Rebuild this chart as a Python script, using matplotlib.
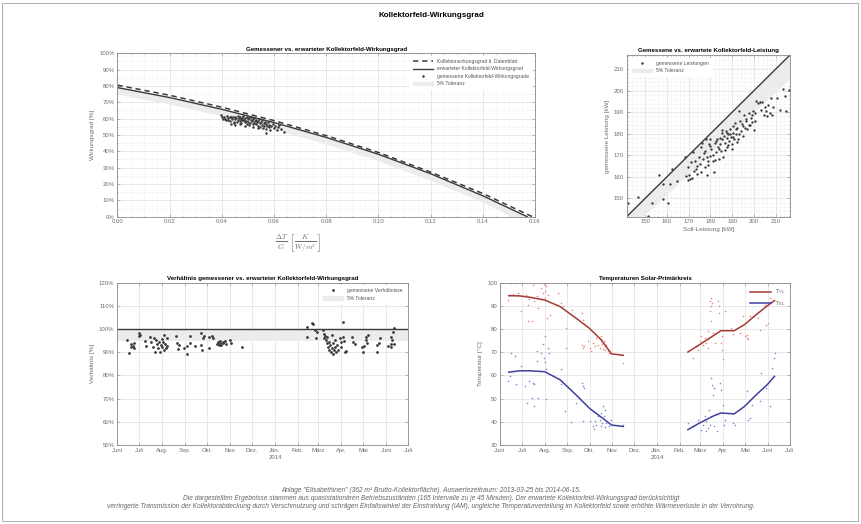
import matplotlib
matplotlib.use("Agg")
import numpy as np
import pandas as pd
import matplotlib.pyplot as plt
from matplotlib.patches import Rectangle, Patch
from matplotlib.lines import Line2D
from matplotlib.ticker import MultipleLocator, FuncFormatter

plt.rcParams['font.family'] = ['Liberation Sans', 'DejaVu Sans']
plt.rcParams['mathtext.fontset'] = 'cm'

# --- Wirkungsgrad-Kennlinien (x = dT/G, y in %) ---
dt_g_sheet = [0.00, 0.02, 0.04, 0.06, 0.08, 0.10, 0.12, 0.14, 0.159]
eta_sheet = [80.5, 74.3, 67.0, 58.8, 49.6, 39.3, 27.3, 14.2, 0.0]
dt_g = [0.00, 0.02, 0.04, 0.06, 0.08, 0.10, 0.12, 0.14, 0.151, 0.157]
eta_expected = [79.0, 72.9, 65.7, 57.6, 48.5, 38.2, 26.3, 12.8, 4.5, 0.0]
eta_band_low = [75.0, 68.9, 61.7, 53.6, 44.5, 34.2, 22.3, 8.8, 0.0, 0.0]

# gemessene Wirkungsgrade
meas_dt_g = [0.0395, 0.0400, 0.0405, 0.0410, 0.0412, 0.0415, 0.0420, 0.0422, 0.0425, 0.0430,
             0.0432, 0.0435, 0.0440, 0.0442, 0.0445, 0.0450, 0.0452, 0.0455, 0.0458, 0.0460,
             0.0462, 0.0465, 0.0468, 0.0470, 0.0472, 0.0475, 0.0478, 0.0480, 0.0482, 0.0485,
             0.0488, 0.0490, 0.0492, 0.0495, 0.0497, 0.0500, 0.0502, 0.0505, 0.0507, 0.0510,
             0.0512, 0.0515, 0.0518, 0.0520, 0.0522, 0.0525, 0.0527, 0.0530, 0.0532, 0.0535,
             0.0537, 0.0540, 0.0542, 0.0545, 0.0548, 0.0550, 0.0552, 0.0555, 0.0557, 0.0560,
             0.0562, 0.0565, 0.0568, 0.0570, 0.0573, 0.0575, 0.0580, 0.0582, 0.0585, 0.0590,
             0.0595, 0.0600, 0.0605, 0.0610, 0.0615, 0.0620, 0.0625, 0.0640, 0.0435, 0.0450,
             0.0470, 0.0490, 0.0520, 0.0570, 0.0445, 0.0478, 0.0505, 0.0538]
meas_eta = [62.5, 60.8, 59.5, 61.2, 60.0, 58.9, 61.5, 60.3, 59.2, 60.8,
            58.5, 61.0, 59.8, 60.9, 58.2, 61.3, 59.5, 60.4, 57.8, 61.6,
            59.0, 60.2, 58.6, 61.0, 59.9, 57.5, 60.6, 58.9, 61.4, 59.4,
            57.9, 60.1, 58.4, 60.8, 56.8, 59.6, 58.0, 60.3, 57.2, 59.1,
            61.0, 58.5, 56.5, 59.8, 57.6, 60.2, 58.8, 56.9, 59.3, 57.9,
            55.6, 58.6, 60.0, 57.1, 55.0, 58.2, 56.4, 59.0, 54.5, 57.5,
            55.8, 58.0, 53.8, 56.6, 55.2, 57.8, 54.6, 56.0, 52.9, 55.4,
            57.0, 54.0, 55.8, 53.2, 54.8, 56.2, 53.6, 52.0, 56.8, 56.0,
            56.5, 55.5, 55.0, 51.5, 57.2, 59.0, 56.2, 54.2]

# --- Leistungen [kW] ---
soll_kw = [141.9, 146.6, 153.1, 151.2, 156.2, 158.3, 158.3, 160.4, 161.4, 162.5,
           164.5, 168.1, 169.5, 170.2, 170.6, 168.7, 169.9, 171.5, 172.1, 173.1,
           173.4, 173.7, 174.6, 175.2, 175.7, 176.2, 176.5, 177.3, 177.7, 178.0,
           178.3, 178.8, 179.3, 179.6, 179.9, 180.4, 181.2, 181.6, 181.9, 182.4,
           182.7, 183.5, 184.0, 184.3, 184.6, 185.0, 185.2, 185.5, 185.8, 186.1,
           186.6, 187.1, 187.4, 187.7, 188.2, 188.6, 188.9, 189.3, 189.7, 190.2,
           190.5, 190.8, 191.3, 191.7, 192.4, 192.8, 193.3, 193.9, 194.4, 194.9,
           195.5, 196.0, 196.4, 197.0, 197.5, 198.0, 198.6, 199.1, 199.6, 199.8,
           200.6, 201.1, 201.7, 202.6, 203.7, 204.5, 205.3, 206.1, 206.4, 207.3,
           207.6, 208.4, 208.9, 210.7, 211.9, 213.1, 214.2, 214.6, 216.0,
           176.8, 178.5, 180.0, 181.0, 183.0, 184.0, 185.5, 186.8, 187.5, 188.0,
           189.0, 189.8, 190.5, 191.5, 192.0, 193.0, 193.5, 195.0, 196.5, 197.5,
           199.0, 174.0, 172.5, 171.0, 175.8, 179.0, 182.0, 200.5, 203.0, 205.0]
ist_kw = [148.0, 150.8, 148.0, 141.9, 161.0, 156.5, 149.5, 148.0, 156.8, 163.7,
          158.1, 169.3, 164.5, 160.7, 159.1, 160.2, 158.4, 159.6, 171.3, 167.5,
          163.7, 161.4, 169.3, 166.0, 173.6, 175.9, 168.3, 164.5, 172.1, 177.4,
          160.7, 167.5, 175.1, 169.8, 177.4, 172.8, 167.5, 162.2, 175.9, 176.6,
          171.3, 173.6, 168.3, 178.2, 175.1, 172.1, 180.4, 177.4, 169.1, 178.9,
          175.9, 181.2, 177.9, 174.0, 179.7, 176.6, 182.0, 178.5, 175.1, 180.4,
          183.5, 177.4, 185.0, 179.7, 182.7, 177.4, 190.6, 181.2, 184.6, 178.9,
          188.8, 182.7, 186.1, 182.0, 189.6, 184.2, 187.3, 185.4, 190.6, 181.5,
          189.6, 195.2, 194.1, 194.9, 194.9, 188.8, 190.3, 188.1, 193.4, 189.6,
          196.4, 188.8, 192.6, 196.7, 191.1, 200.7, 197.3, 190.3, 200.4,
          171.0, 169.0, 174.5, 170.0, 177.5, 172.8, 181.5, 172.5, 180.5, 174.8,
          180.0, 173.0, 178.5, 182.0, 176.0, 180.0, 185.8, 183.5, 187.0, 184.0,
          188.5, 165.0, 162.5, 167.0, 162.0, 165.5, 168.0, 186.0, 191.0, 192.5]

# --- Verhaeltnis gemessen / erwartet [%] ---
ratio_dates = ['2013-06-14', '2013-06-17', '2013-06-19', '2013-06-20', '2013-06-22', '2013-06-23',
               '2013-06-24', '2013-06-30', '2013-07-01', '2013-07-02', '2013-07-08', '2013-07-10',
               '2013-07-16', '2013-07-17', '2013-07-19', '2013-07-21', '2013-07-22', '2013-07-24',
               '2013-07-25', '2013-07-26', '2013-07-28', '2013-07-29', '2013-07-30', '2013-07-31',
               '2013-08-01', '2013-08-02', '2013-08-03', '2013-08-04', '2013-08-05', '2013-08-06',
               '2013-08-07', '2013-08-08', '2013-08-20', '2013-08-21', '2013-08-23', '2013-08-24',
               '2013-08-30', '2013-09-03', '2013-09-04', '2013-09-07', '2013-09-08', '2013-09-14',
               '2013-09-22', '2013-09-23', '2013-09-24', '2013-09-25', '2013-09-26', '2013-10-03',
               '2013-10-04', '2013-10-07', '2013-10-09', '2013-10-14', '2013-10-16', '2013-10-17',
               '2013-10-18', '2013-10-19', '2013-10-20', '2013-10-22', '2013-10-23', '2013-10-25',
               '2013-10-26', '2013-11-01', '2013-11-02', '2013-11-17',
               '2014-02-13', '2014-02-14', '2014-02-20', '2014-02-21', '2014-02-24', '2014-02-26',
               '2014-02-27', '2014-03-07', '2014-03-08', '2014-03-09', '2014-03-10', '2014-03-11',
               '2014-03-12', '2014-03-13', '2014-03-14', '2014-03-15', '2014-03-16', '2014-03-17',
               '2014-03-18', '2014-03-19', '2014-03-20', '2014-03-21', '2014-03-21', '2014-03-22',
               '2014-03-23', '2014-03-24', '2014-03-25', '2014-03-26', '2014-03-28', '2014-03-30',
               '2014-03-31', '2014-04-01', '2014-04-03', '2014-04-04', '2014-04-05', '2014-04-06',
               '2014-04-08', '2014-04-15', '2014-04-17', '2014-04-19', '2014-04-29', '2014-05-01',
               '2014-05-02', '2014-05-04', '2014-05-04', '2014-05-06', '2014-05-07', '2014-05-19',
               '2014-05-20', '2014-05-22', '2014-05-24', '2014-06-04', '2014-06-07', '2014-06-07',
               '2014-06-09', '2014-06-10', '2014-06-11', '2014-06-12', '2014-06-07']
ratio_pct = [95.3, 89.8, 93.6, 92.1, 92.7, 93.9, 91.7, 97.0, 98.2, 97.4, 95.0, 92.7,
             96.7, 94.6, 92.4, 96.0, 90.3, 95.3, 93.6, 91.7, 94.6, 90.3, 93.1, 95.6,
             92.4, 94.6, 91.0, 97.4, 93.6, 91.7, 96.0, 92.7, 97.2, 94.1, 91.3, 93.1,
             91.7, 89.3, 92.7, 94.1, 97.2, 92.7, 98.2, 93.1, 91.0, 96.0, 97.0, 91.7,
             96.7, 97.0, 96.0, 93.6, 94.6, 93.1, 94.1, 95.0, 93.1, 94.6, 93.9, 95.0,
             93.6, 95.3, 93.9, 92.1,
             100.7, 96.7, 102.8, 102.2, 99.6, 96.0, 98.9, 99.6, 97.9, 96.0, 97.0, 95.3,
             93.9, 96.7, 92.4, 94.6, 91.0, 93.1, 90.3, 97.4, 91.7, 89.3, 93.9, 91.0,
             95.3, 92.1, 90.3, 93.1, 91.0, 96.0, 92.1, 94.6, 96.7, 103.2, 95.0, 90.3,
             90.7, 96.4, 94.6, 93.6, 92.1, 90.3, 92.7, 96.7, 95.3, 93.9, 97.4, 93.1,
             90.3, 94.1, 96.0, 92.7, 93.6, 96.7, 95.3, 98.9, 100.3, 93.6, 92.4]

# --- Temperaturen Solar-Primaerkreis [degC] ---
vl_dates = ['2013-06-12', '2013-06-14', '2013-06-16', '2013-06-19', '2013-06-21', '2013-06-25',
            '2013-06-30', '2013-07-07', '2013-07-09', '2013-07-09', '2013-07-11', '2013-07-15',
            '2013-07-16', '2013-07-17', '2013-07-19', '2013-07-21', '2013-07-23', '2013-07-25',
            '2013-07-27', '2013-07-30', '2013-07-31', '2013-08-01', '2013-08-02', '2013-08-03',
            '2013-08-04', '2013-08-05', '2013-08-08', '2013-08-19', '2013-08-23', '2013-08-26',
            '2013-08-30', '2013-08-30', '2013-09-07', '2013-09-21', '2013-09-22', '2013-09-21',
            '2013-09-22', '2013-09-23', '2013-09-29', '2013-10-01', '2013-10-03', '2013-10-06',
            '2013-10-08', '2013-10-10', '2013-10-13', '2013-10-15', '2013-10-16', '2013-10-17',
            '2013-10-18', '2013-10-19', '2013-10-21', '2013-10-22', '2013-10-22', '2013-10-24',
            '2013-10-26', '2013-10-28', '2013-11-16',
            '2014-02-19', '2014-02-24', '2014-02-26', '2014-02-28', '2014-03-02', '2014-03-05',
            '2014-03-07', '2014-03-09', '2014-03-11', '2014-03-12', '2014-03-12', '2014-03-14',
            '2014-03-14', '2014-03-15', '2014-03-16', '2014-03-16', '2014-03-17', '2014-03-18',
            '2014-03-21', '2014-03-25', '2014-03-26', '2014-03-27', '2014-03-29', '2014-03-30',
            '2014-03-31', '2014-04-01', '2014-04-03', '2014-04-12', '2014-04-15', '2014-04-24',
            '2014-04-28', '2014-05-01', '2014-05-03', '2014-05-04', '2014-05-05', '2014-05-07',
            '2014-05-19', '2014-05-21', '2014-05-28', '2014-05-30', '2014-06-01', '2014-06-04',
            '2014-06-06']
vl_temp = [92.7, 94.8, 99.8, 95.1, 99.8, 95.6, 87.7, 94.8, 83.3, 90.5, 93.1, 83.3,
           99.1, 92.2, 99.8, 94.1, 89.1, 99.8, 97.6, 95.6, 99.4, 93.5, 96.4, 98.5,
           84.7, 94.8, 86.2, 95.6, 91.3, 89.9, 71.9, 80.5, 88.4, 86.9, 84.1, 73.3,
           71.9, 72.6, 74.7, 71.9, 70.5, 74.0, 72.6, 76.2, 73.3, 71.9, 76.9, 75.5,
           73.6, 71.6, 74.7, 72.6, 70.9, 73.3, 70.5, 69.5, 65.5,
           67.5, 72.6, 71.1, 74.7, 76.9, 73.3, 76.2, 74.0, 79.0, 71.9, 75.5, 92.0,
           87.7, 89.9, 93.5, 83.3, 91.3, 78.3, 74.0, 92.0, 89.9, 87.0, 74.0, 71.1,
           76.9, 66.9, 87.7, 80.5, 77.9, 78.3, 85.5, 76.9, 76.2, 77.6, 75.5, 85.5,
           84.7, 79.7, 90.5, 81.9, 82.6, 93.5, 99.8]
rl_dates = ['2013-06-12', '2013-06-14', '2013-06-16', '2013-06-21', '2013-06-23', '2013-06-29',
            '2013-07-05', '2013-07-08', '2013-07-11', '2013-07-14', '2013-07-16', '2013-07-17',
            '2013-07-18', '2013-07-21', '2013-07-22', '2013-07-23', '2013-07-25', '2013-07-27',
            '2013-07-30', '2013-07-31', '2013-08-01', '2013-08-02', '2013-08-03', '2013-08-03',
            '2013-08-05', '2013-08-07', '2013-08-23', '2013-08-23', '2013-08-29', '2013-09-06',
            '2013-09-13', '2013-09-21', '2013-09-22', '2013-09-23', '2013-09-22', '2013-10-01',
            '2013-10-06', '2013-10-07', '2013-10-08', '2013-10-10', '2013-10-13', '2013-10-15',
            '2013-10-16', '2013-10-17', '2013-10-18', '2013-10-19', '2013-10-21', '2013-10-22',
            '2013-10-22', '2013-10-24', '2013-10-28', '2013-10-30', '2013-11-16',
            '2014-02-12', '2014-02-19', '2014-02-26', '2014-03-02', '2014-03-04', '2014-03-07',
            '2014-03-08', '2014-03-09', '2014-03-11', '2014-03-13', '2014-03-14', '2014-03-16',
            '2014-03-17', '2014-03-18', '2014-03-19', '2014-03-20', '2014-03-23', '2014-03-28',
            '2014-03-29', '2014-04-01', '2014-04-02', '2014-04-03', '2014-04-14', '2014-04-17',
            '2014-05-03', '2014-05-05', '2014-05-07', '2014-05-10', '2014-05-21', '2014-05-23',
            '2014-05-30', '2014-06-04', '2014-06-07', '2014-06-09', '2014-06-10']
rl_temp = [57.6, 59.8, 69.8, 68.4, 56.2, 64.2, 55.4, 48.2, 57.6, 50.4, 56.9, 47.0,
           56.2, 70.5, 66.2, 50.4, 61.9, 69.8, 73.4, 67.4, 77.0, 65.6, 62.7, 49.7,
           72.0, 69.8, 62.7, 56.2, 44.8, 39.8, 48.2, 56.9, 55.4, 54.7, 40.3, 40.3,
           38.1, 36.7, 40.3, 38.8, 42.4, 40.9, 38.1, 43.8, 39.5, 47.0, 42.4, 45.2,
           37.9, 39.5, 38.1, 40.9, 38.5,
           39.5, 38.1, 40.9, 36.6, 38.8, 42.4, 35.9, 40.2, 37.3, 45.2, 38.8, 58.9,
           56.0, 51.7, 54.6, 38.1, 35.9, 56.7, 53.9, 47.4, 38.8, 40.9, 39.5, 38.8,
           53.2, 40.9, 41.7, 47.4, 48.9, 61.1, 54.6, 46.7, 63.2, 67.5, 69.7]

# geglaettete Verlaeufe (NaN = Luecke Winter)
fit_dates = ['2013-06-13', '2013-06-28', '2013-07-12', '2013-08-01', '2013-08-22', '2013-09-13',
             '2013-10-01', '2013-10-17', '2013-10-31', '2013-11-16', '2014-01-01',
             '2014-02-12', '2014-02-28', '2014-03-18', '2014-03-29', '2014-04-16', '2014-04-30',
             '2014-05-16', '2014-05-31', '2014-06-10']
vl_fit = [94.4, 94.3, 93.7, 92.5, 89.7, 84.6, 80.3, 75.3, 69.3, 68.7, np.nan,
          70.1, 73.3, 77.0, 79.3, 79.3, 81.9, 86.2, 90.0, 92.3]
rl_fit = [61.4, 62.0, 62.0, 61.6, 58.1, 51.5, 45.8, 42.0, 38.6, 38.0, np.nan,
          36.6, 39.5, 42.4, 43.8, 43.4, 46.6, 51.6, 56.0, 59.6]

month_ticks = pd.date_range('2013-06-01', '2014-07-01', freq='MS')
month_labels = ['Juni', 'Juli', 'Aug.', 'Sep.', 'Okt.', 'Nov.', 'Dez.', 'Jän.',
                'Feb.', 'März', 'Apr.', 'Mai', 'Juni', 'Juli']

footer = ['Anlage "Elisabethinen" (362 m² Brutto-Kollektorfläche). Auswertezeitraum: 2013-03-25 bis 2014-06-15.',
          'Die dargestellten Ergebnisse stammen aus quasistationären Betriebszuständen (165 Intervalle zu je 45 Minuten). '
          'Der erwartete Kollektorfeld-Wirkungsgrad berücksichtigt',
          'verringerte Transmission der Kollektorabdeckung durch Verschmutzung und schrägen Einfallswinkel der Einstrahlung (IAM), '
          'ungleiche Temperaturverteilung im Kollektorfeld sowie erhöhte Wärmeverluste in der Verrohrung.']

DARK = '#3a3a3a'
BAND = '#ececec'
TXT = '#6e6e6e'


def style(ax, minor=False):
    for s in ax.spines.values():
        s.set_color('#8a8a8a')
        s.set_linewidth(0.6)
    ax.tick_params(which='both', direction='in', top=True, right=True,
                   labelsize=4.3, colors='#8a8a8a', labelcolor=TXT, width=0.4, pad=2)
    ax.tick_params(which='major', length=2)
    ax.tick_params(which='minor', length=1)
    ax.grid(True, which='major', color='#dedede', lw=0.5)
    if minor:
        ax.grid(True, which='minor', color='#e4e4e4', ls=(0, (1, 1.5)), lw=0.4)
    ax.set_axisbelow(True)


def legend(ax, handles, labels, loc):
    lg = ax.legend(handles, labels, loc=loc, fontsize=3.6, frameon=True, framealpha=1,
                   facecolor='white', edgecolor='white', handlelength=4, borderpad=0.6,
                   labelspacing=0.5)
    for t in lg.get_texts():
        t.set_color('#555555')
    return lg


fig = plt.figure(figsize=(8.62, 5.24), dpi=100)
fig.patches.append(Rectangle((2 / 862, 3 / 524), 856 / 862, 518 / 524, transform=fig.transFigure,
                             fill=False, edgecolor='#a0a0a0', lw=0.6))
fig.text(0.5, 0.971, 'Kollektorfeld-Wirkungsgrad', ha='center', va='center',
         fontsize=5.8, fontweight='bold')

# ---------- oben links ----------
ax1 = fig.add_axes([0.1363, 0.5865, 0.4843, 0.3118])
style(ax1, minor=True)
ax1.fill_between(dt_g, eta_band_low, eta_expected, color=BAND, lw=0)
ax1.plot(dt_g_sheet, eta_sheet, color=DARK, lw=1.1, ls=(0, (3.5, 2.5)))
ax1.plot(dt_g, eta_expected, color=DARK, lw=1.0)
ax1.plot(meas_dt_g, meas_eta, ls='none', marker='o', ms=1.8, color=DARK, mew=0)
ax1.set_xlim(0, 0.16)
ax1.set_ylim(0, 100)
ax1.xaxis.set_major_locator(MultipleLocator(0.02))
ax1.xaxis.set_minor_locator(MultipleLocator(0.005))
ax1.yaxis.set_major_locator(MultipleLocator(10))
ax1.yaxis.set_minor_locator(MultipleLocator(5))
ax1.xaxis.set_major_formatter(FuncFormatter(lambda v, p: f'{v:.2f}'))
ax1.yaxis.set_major_formatter(FuncFormatter(lambda v, p: f'{v:.0f}%'))
ax1.set_title('Gemessener vs. erwarteter Kollektorfeld-Wirkungsgrad', fontsize=4.4,
              fontweight='bold', pad=2)
ax1.set_ylabel('Wirkungsgrad [%]', fontsize=4.6, color=TXT, labelpad=3)
ax1.set_xlabel(r'$\frac{\Delta T}{G}\ \left[\frac{K}{W/m^2_{\rm}}\right]$', fontsize=7.5, color=TXT)
ax1.xaxis.set_label_coords(0.432, -0.095)
legend(ax1,
       [Line2D([], [], color=DARK, lw=1.1, ls=(0, (3.5, 2.5))),
        Line2D([], [], color=DARK, lw=1.0),
        Line2D([], [], ls='none', marker='o', ms=1.8, color=DARK, mew=0),
        Patch(color=BAND)],
       ['Kollektorwirkungsgrad lt. Datenblatt', 'erwarteter Kollektorfeld-Wirkungsgrad',
        'gemessene Kollektorfeld-Wirkungsgrade', '5% Toleranz'], 'upper right')

# ---------- oben rechts ----------
ax2 = fig.add_axes([0.7270, 0.5865, 0.1894, 0.3085])
style(ax2, minor=True)
lim = [141.5, 216.5]
ax2.fill_between(lim, [v * 0.95 for v in lim], lim, color=BAND, lw=0)
ax2.plot(lim, lim, color=DARK, lw=1.0)
ax2.plot(soll_kw, ist_kw, ls='none', marker='o', ms=1.7, color=DARK, mew=0)
ax2.set_xlim(lim)
ax2.set_ylim(lim)
ax2.xaxis.set_major_locator(MultipleLocator(10))
ax2.yaxis.set_major_locator(MultipleLocator(10))
ax2.xaxis.set_minor_locator(MultipleLocator(2))
ax2.yaxis.set_minor_locator(MultipleLocator(2))
ax2.set_title('Gemessene vs. erwartete Kollektorfeld-Leistung', fontsize=4.4,
              fontweight='bold', pad=2)
ax2.set_xlabel('Soll-Leistung [kW]', fontsize=4.6, color=TXT, labelpad=2)
ax2.set_ylabel('gemessene Leistung [kW]', fontsize=4.6, color=TXT, labelpad=3)
legend(ax2,
       [Line2D([], [], ls='none', marker='o', ms=1.8, color=DARK, mew=0), Patch(color=BAND)],
       ['gemessene Leistungen', '5% Toleranz'], 'upper left')

# ---------- unten links ----------
t_lim = (pd.Timestamp('2013-06-01'), pd.Timestamp('2014-07-01'))
ax3 = fig.add_axes([0.1361, 0.1508, 0.3376, 0.3097])
style(ax3)
ax3.fill_between(t_lim, [95, 95], [100, 100], color=BAND, lw=0)
ax3.axhline(100, color=DARK, lw=1.0)
ax3.plot(pd.to_datetime(ratio_dates), ratio_pct, ls='none', marker='o', ms=2.0,
         color=DARK, mew=0)
ax3.set_xlim(t_lim)
ax3.set_ylim(50, 120)
ax3.set_xticks(month_ticks)
ax3.set_xticklabels(month_labels)
ax3.yaxis.set_major_locator(MultipleLocator(10))
ax3.yaxis.set_major_formatter(FuncFormatter(lambda v, p: f'{v:.0f}%'))
ax3.set_title('Verhältnis gemessener vs. erwarteter Kollektorfeld-Wirkungsgrad', fontsize=4.4,
              fontweight='bold', pad=2)
ax3.set_ylabel('Verhältnis [%]', fontsize=4.6, color=TXT, labelpad=3)
ax3.text(pd.Timestamp('2014-01-01'), -0.08, '2014', transform=ax3.get_xaxis_transform(),
         ha='center', va='center', fontsize=4.3, color=TXT)
legend(ax3,
       [Line2D([], [], ls='none', marker='o', ms=2.0, color=DARK, mew=0), Patch(color=BAND)],
       ['gemessene Verhältnisse', '5% Toleranz'], 'upper right')

# ---------- unten rechts ----------
ax4 = fig.add_axes([0.5800, 0.1508, 0.3364, 0.3097])
style(ax4)
ax4.plot(pd.to_datetime(vl_dates), vl_temp, ls='none', marker='+', ms=2.0, mew=0.4,
         color='#ee8a8a')
ax4.plot(pd.to_datetime(rl_dates), rl_temp, ls='none', marker='+', ms=2.0, mew=0.4,
         color='#8a8ad6')
ax4.plot(pd.to_datetime(fit_dates), vl_fit, color='#a33a32', lw=1.1)
ax4.plot(pd.to_datetime(fit_dates), rl_fit, color='#3f3fa0', lw=1.1)
ax4.set_xlim(t_lim)
ax4.set_ylim(30, 100)
ax4.set_xticks(month_ticks)
ax4.set_xticklabels(month_labels)
ax4.yaxis.set_major_locator(MultipleLocator(10))
ax4.set_title('Temperaturen Solar-Primärkreis', fontsize=4.4, fontweight='bold', pad=2)
ax4.set_ylabel('Temperatur [°C]', fontsize=4.6, color=TXT, labelpad=3)
ax4.text(pd.Timestamp('2014-01-01'), -0.08, '2014', transform=ax4.get_xaxis_transform(),
         ha='center', va='center', fontsize=4.3, color=TXT)
lg = ax4.legend([Line2D([], [], color='#a33a32', lw=1.1), Line2D([], [], color='#3f3fa0', lw=1.1)],
                [r'T$_{\rm VL}$', r'T$_{\rm RL}$'], loc='upper right', fontsize=3.8,
                frameon=False, handlelength=4)
for t in lg.get_texts():
    t.set_color('#555555')

# ---------- Fusszeile ----------
for i, line in enumerate(footer):
    fig.text(0.5, 1 - (490 + i * 8.3) / 524, line, ha='center', va='center',
             fontsize=4.8, style='italic', color='#666666')

fig.savefig('out.png', dpi=100)
